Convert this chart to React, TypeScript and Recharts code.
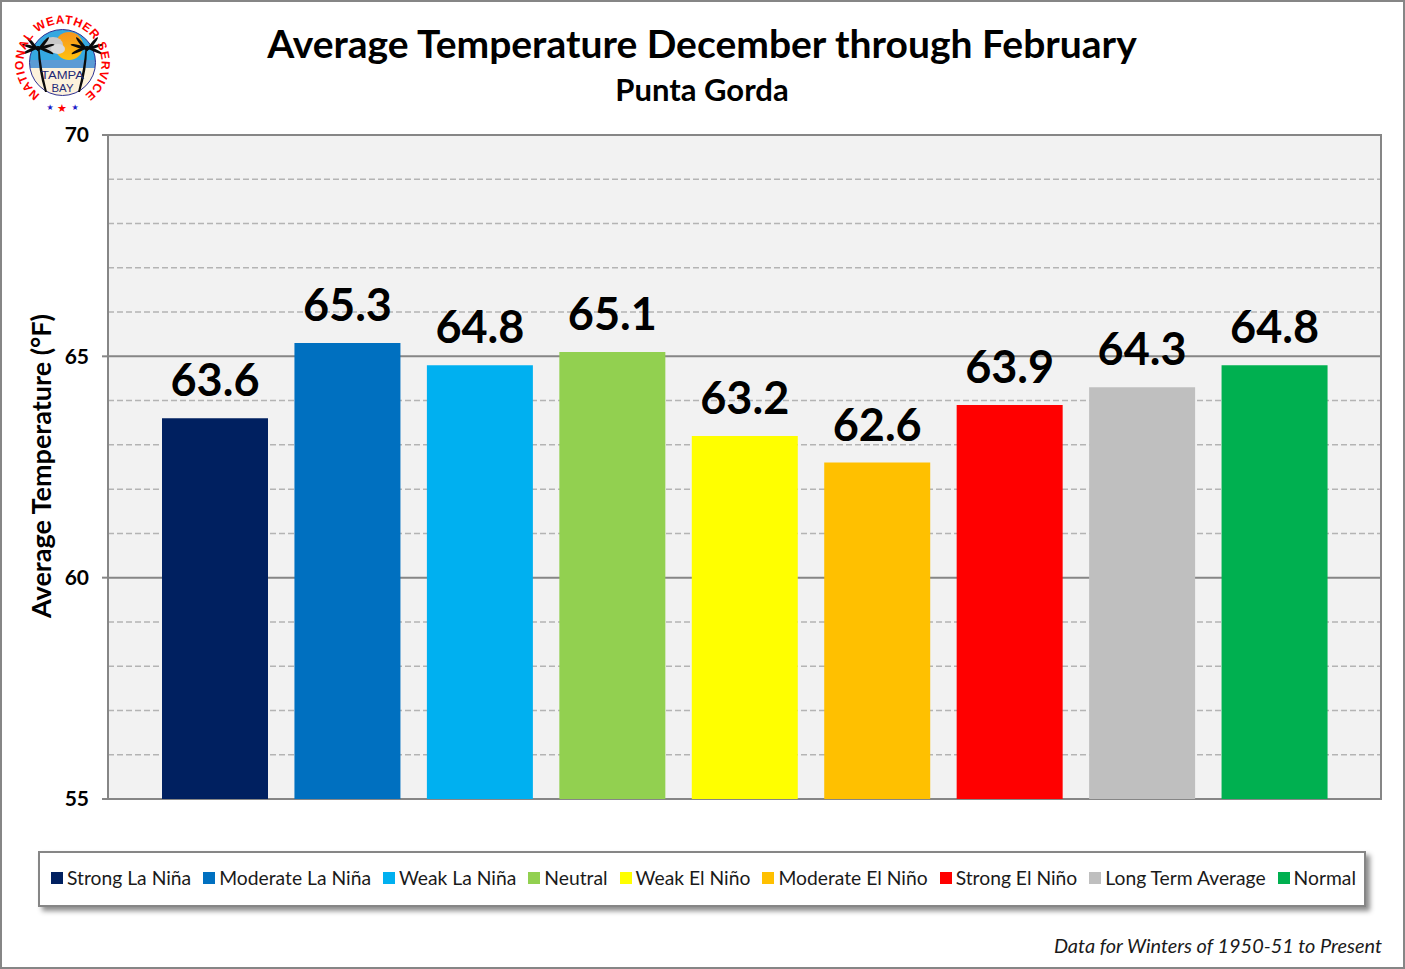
import { BarChart, Bar, Cell, CartesianGrid, XAxis, YAxis, Legend, LabelList } from 'recharts';

const categories = ['Strong La Niña', 'Moderate La Niña', 'Weak La Niña', 'Neutral', 'Weak El Niño', 'Moderate El Niño', 'Strong El Niño', 'Long Term Average', 'Normal'];
const temps = [63.6, 65.3, 64.8, 65.1, 63.2, 62.6, 63.9, 64.3, 64.8];
const colors = ['#002060', '#0070c0', '#00b0f0', '#92d050', '#ffff00', '#ffc000', '#ff0000', '#bfbfbf', '#00b050'];
const majorTicks = [55, 60, 65, 70];
const minorTicks = [56, 57, 58, 59, 61, 62, 63, 64, 66, 67, 68, 69];

const data = categories.map((name, i) => ({ name, temp: temps[i] }));

const FONT = 'Lato';
const GRAY = '#868686';

const LegendBox = () => (
    <div style={{
        boxSizing: 'border-box', width: 1328, height: 56, background: '#fff', border: `2px solid ${GRAY}`,
        boxShadow: '4px 4px 5px rgba(0,0,0,0.45)', display: 'flex', alignItems: 'center',
        paddingLeft: 11, paddingBottom: 3, fontFamily: FONT, fontSize: 19.3, color: '#1a1a1a', whiteSpace: 'nowrap',
    }}>
        {categories.map((c, i) => (
            <span key={c} style={{ display: 'inline-flex', alignItems: 'center', marginRight: 12 }}>
                <span style={{ width: 12, height: 12, background: colors[i], marginRight: 4 }} />
                {c}
            </span>
        ))}
    </div>
);

const frondAngles = [-165, -130, -50, -15, 25, 155];

const Palm = ({ x, y, flip }: { x: number; y: number; flip: number }) => (
    <g fill="#0b0b0b">
        <path d={`M${x} ${y} Q${x + flip * 0} ${y + 22} ${x + flip * 7} ${y + 44} L${x + flip * 9} ${y + 44} Q${x + flip * 3} ${y + 20} ${x + flip * 1.5} ${y} Z`} />
        {frondAngles.map(a => {
            const cx = x + 8 * Math.cos(a * Math.PI / 180);
            const cy = y + 5 * Math.sin(a * Math.PI / 180);
            return <ellipse key={a} cx={cx} cy={cy} rx={9} ry={1.5} transform={`rotate(${a} ${cx} ${cy})`} />;
        })}
    </g>
);

const Logo = () => (
    <g>
        <defs>
            <clipPath id="logoClip"><circle cx={62.5} cy={62.5} r={33} /></clipPath>
            <linearGradient id="sunGrad" x1="0" y1="0" x2="0" y2="1">
                <stop offset="0" stopColor="#f7941d" />
                <stop offset="1" stopColor="#ffc20e" />
            </linearGradient>
            <path id="logoArc" d="M40 94.5 A39 39 0 1 1 85 94.5" />
        </defs>
        <g clipPath="url(#logoClip)">
            <rect x={29} y={29} width={67} height={33} fill="#35a8e0" />
            <rect x={29} y={60} width={67} height={8} fill="#5b9bd5" />
            <rect x={29} y={68} width={67} height={28} fill="#fdf2dc" />
            <circle cx={69} cy={46} r={14} fill="url(#sunGrad)" />
            <ellipse cx={53} cy={45} rx={10} ry={8} fill="#c8c8c8" />
            <ellipse cx={58} cy={49} rx={7} ry={5} fill="#d9d9d9" />
        </g>
        <circle cx={62.5} cy={62.5} r={33} fill="none" stroke="#2e3192" strokeWidth={1} />
        <Palm x={38} y={48} flip={1} />
        <Palm x={87} y={48} flip={-1} />
        <text x={62.5} y={79} textAnchor="middle" fontFamily="Liberation Sans" fontSize={11} fill="#1f2a78" textLength={43} lengthAdjust="spacingAndGlyphs">TAMPA</text>
        <text x={62.5} y={92} textAnchor="middle" fontFamily="Liberation Sans" fontSize={11} fill="#1f2a78" textLength={22} lengthAdjust="spacingAndGlyphs">BAY</text>
        <text fontFamily="Liberation Sans" fontWeight="bold" fontSize={12} fill="#ff0000">
            <textPath href="#logoArc" textLength={197}>NATIONAL WEATHER SERVICE</textPath>
        </text>
        <text x={50} y={110} textAnchor="middle" fontFamily="DejaVu Sans" fontSize={8} fill="#1c1cc8">★</text>
        <text x={62} y={112} textAnchor="middle" fontFamily="DejaVu Sans" fontSize={11} fill="#ff0000">★</text>
        <text x={75} y={110} textAnchor="middle" fontFamily="DejaVu Sans" fontSize={8} fill="#1c1cc8">★</text>
    </g>
);

export default function App() {
    return (
        <div style={{ position: 'fixed', left: 0, top: 0, width: 1405, height: 969, background: '#fff' }}>
            <BarChart width={1405} height={969} data={data} margin={{ top: 135, right: 24, bottom: 114, left: 8 }}>
                <CartesianGrid horizontal vertical={false} horizontalValues={minorTicks} stroke="#b4b4b4" strokeDasharray="6 3" strokeWidth={1.5} fill="#f2f2f2" syncWithTicks={false} />
                <CartesianGrid horizontal vertical={false} horizontalValues={majorTicks} stroke={GRAY} strokeWidth={2} syncWithTicks={false} />
                <XAxis dataKey="name" tick={false} tickLine={false} height={0} padding={{ left: 41, right: 40 }} axisLine={{ stroke: GRAY, strokeWidth: 2 }} />
                <YAxis
                    domain={[55, 70]}
                    ticks={majorTicks}
                    width={100}
                    interval={0}
                    tickSize={6}
                    tickMargin={13}
                    axisLine={{ stroke: GRAY, strokeWidth: 2 }}
                    tickLine={{ stroke: GRAY, strokeWidth: 2 }}
                    tick={{ fontFamily: FONT, fontWeight: 700, fontSize: 21, fill: '#000' }}
                />
                <Bar dataKey="temp" barSize={106} isAnimationActive={false}>
                    {data.map((d, i) => <Cell key={d.name} fill={colors[i]} />)}
                    <LabelList dataKey="temp" position="top" offset={22} formatter={(v: number) => v.toFixed(1)}
                        style={{ fontFamily: FONT, fontWeight: 700, fontSize: 45, fill: '#000' }} />
                </Bar>
                <Legend content={<LegendBox />} wrapperStyle={{ left: 38, top: 851, width: 1328, height: 56, bottom: 'auto' }} />

                <rect x={1} y={1} width={1403} height={967} fill="none" stroke={GRAY} strokeWidth={2} />
                <rect x={108} y={135} width={1273} height={664} fill="none" stroke={GRAY} strokeWidth={2} />
                <Logo />
                <text x={702} y={58} textAnchor="middle" fontFamily={FONT} fontWeight={700} fontSize={39}>Average Temperature December through February</text>
                <text x={702} y={101} textAnchor="middle" fontFamily={FONT} fontWeight={700} fontSize={31}>Punta Gorda</text>
                <text transform="translate(51 466) rotate(-90)" textAnchor="middle" fontFamily={FONT} fontWeight={700} fontSize={27}>Average Temperature (°F)</text>
                <text x={1382} y={953} textAnchor="end" fontFamily={FONT} fontStyle="italic" fontSize={19.9} fill="#1a1a1a">Data for Winters of 1950-51 to Present</text>
            </BarChart>
        </div>
    );
}
